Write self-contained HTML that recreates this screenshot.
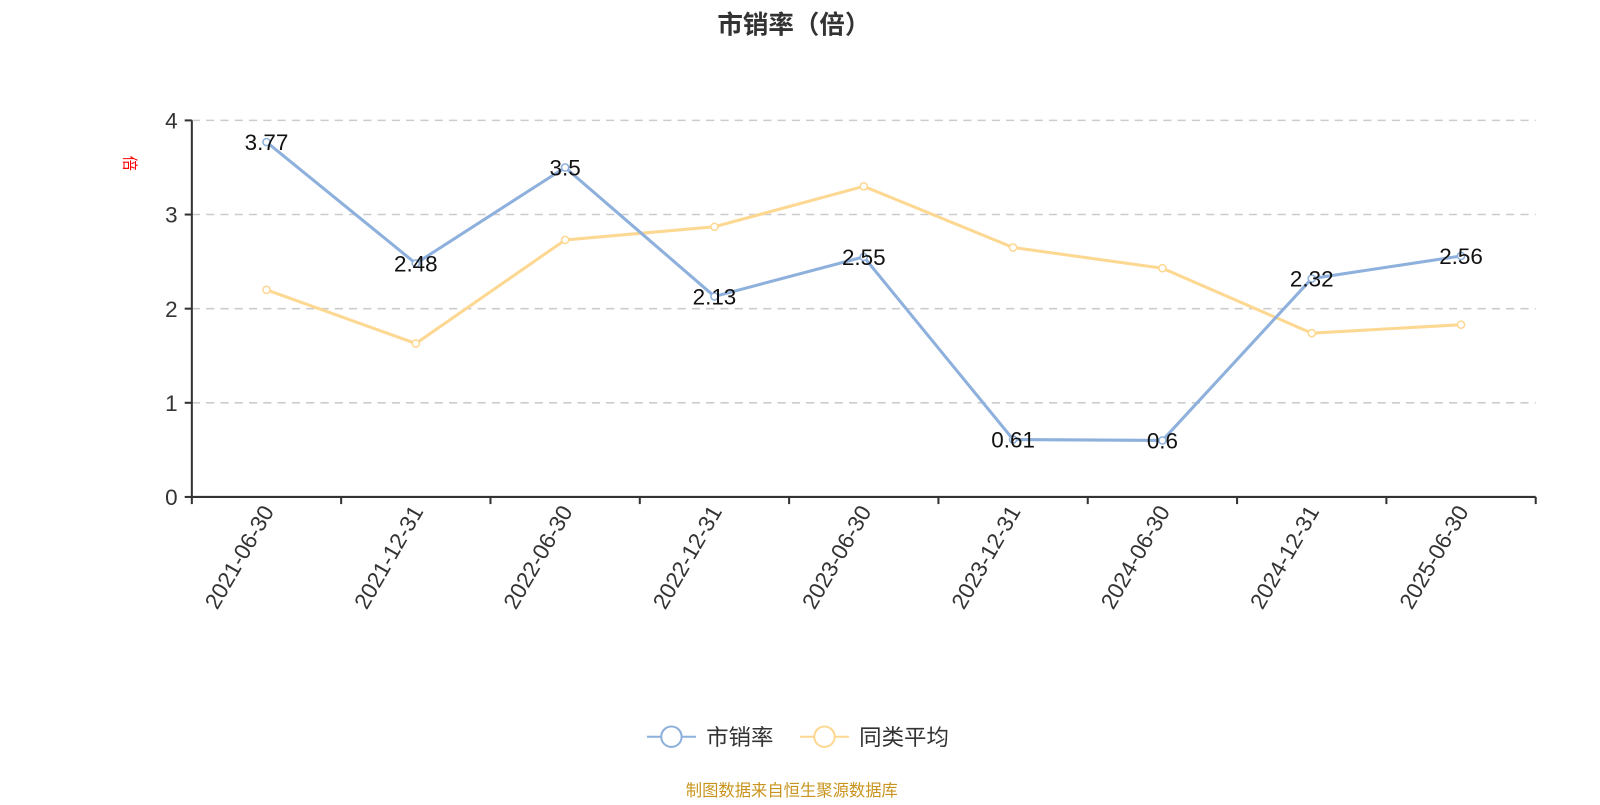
<!DOCTYPE html>
<html><head><meta charset="utf-8"><style>
body{margin:0;background:#fff;width:1600px;height:800px;overflow:hidden;font-family:"Liberation Sans","Noto Sans CJK SC",sans-serif}
</style></head><body>
<svg id="c" width="1600" height="800" viewBox="0 0 1568 784" xmlns="http://www.w3.org/2000/svg">
<text x="778" y="33" text-anchor="middle" font-size="25" font-weight="bold" fill="#333" font-family="Liberation Sans,Noto Sans CJK SC,sans-serif">市销率（倍）</text>
<text x="0" y="0" transform="translate(122,160) rotate(90)" text-anchor="middle" font-size="15" fill="#f00" font-family="Noto Sans CJK SC,sans-serif">倍</text>
<g id="grid"></g><g id="axes"></g><g id="series"></g>
<g>
<g><line x1="634" y1="722" x2="682" y2="722" stroke="#8eb0dc" stroke-width="2"/><circle cx="658" cy="722" r="10" fill="#fff" stroke="#8eb0dc" stroke-width="2"/><text x="692" y="730" font-size="22" fill="#333" font-family="Noto Sans CJK SC,sans-serif">市销率</text></g>
<g><line x1="784" y1="722" x2="832" y2="722" stroke="#fdd892" stroke-width="2"/><circle cx="808" cy="722" r="10" fill="#fff" stroke="#fdd892" stroke-width="2"/><text x="842" y="730" font-size="22" fill="#333" font-family="Noto Sans CJK SC,sans-serif">同类平均</text></g>
</g>
<text x="776" y="780" text-anchor="middle" font-size="16" fill="#c8941e" font-family="Noto Sans CJK SC,sans-serif">制图数据来自恒生聚源数据库</text>
</svg>
<script>
const categories=["2021-06-30","2021-12-31","2022-06-30","2022-12-31","2023-06-30","2023-12-31","2024-06-30","2024-12-31","2025-06-30"];
const psrValues=[3.77,2.48,3.5,2.13,2.55,0.61,0.6,2.32,2.56];
const avgValues=[2.2,1.63,2.73,2.87,3.3,2.65,2.43,1.74,1.83];
const yTicks=[0,1,2,3,4];
const NS="http://www.w3.org/2000/svg";
const x0=188,x1=1505,y0=487,y1=118,ymax=4;
const bw=(x1-x0)/categories.length;
const xs=i=>x0+bw*(i+0.5);
const ys=v=>y0-(v/ymax)*(y0-y1);
function mk(t,a,p){const e=document.createElementNS(NS,t);for(const k in a)e.setAttribute(k,a[k]);p.appendChild(e);return e;}
const grid=document.getElementById('grid'),axes=document.getElementById('axes'),ser=document.getElementById('series');
yTicks.forEach(v=>{
 if(v>0){const g=mk('line',{x1:x0,x2:x1,y1:ys(v),y2:ys(v),stroke:'#ccc','stroke-dasharray':'8,6','stroke-width':1.5},grid);
 
 }
 const t=mk('line',{x1:x0-7,x2:x0,y1:ys(v),y2:ys(v),stroke:'#333','stroke-width':2},axes);
 
 
 const l=mk('text',{x:x0-14,y:ys(v)+8,'text-anchor':'end','font-size':22,fill:'#333'},axes);l.textContent=v;
 
 
});
const ya=mk('line',{x1:x0,x2:x0,y1:y1,y2:y0,stroke:'#333','stroke-width':2},axes);


const xa=mk('line',{x1:x0,x2:x1,y1:y0,y2:y0,stroke:'#333','stroke-width':2},axes);


for(let i=0;i<=categories.length;i++){const t=mk('line',{x1:x0+bw*i,x2:x0+bw*i,y1:y0,y2:y0+7,stroke:'#333','stroke-width':2},axes);

}
categories.forEach((c,i)=>{const t=mk('text',{transform:`translate(${xs(i)+8},${y0+14}) rotate(-60)`,'text-anchor':'end','font-size':22,fill:'#333'},axes);t.textContent=c;

});
function series(vals,color,name,labels){
 const p=mk('polyline',{points:vals.map((v,i)=>xs(i)+','+ys(v)).join(' '),fill:'none',stroke:color,'stroke-width':3},ser);
 
 
 vals.forEach((v,i)=>{const c=mk('circle',{cx:xs(i),cy:ys(v),r:3.5,fill:'#fff',stroke:color,'stroke-width':1.5},ser);
 
 
 if(labels){const t=mk('text',{x:xs(i),y:ys(v)+8,'text-anchor':'middle','font-size':22,fill:'#111'},ser);t.textContent=v;
 
 }});
}
series(avgValues,'#fdd892','avg',false);
series(psrValues,'#8eb0dc','psr',true);
</script>
</body></html>
